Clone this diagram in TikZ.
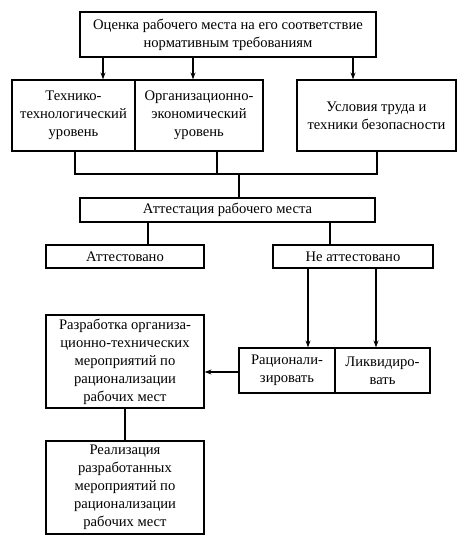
\documentclass[tikz,border=0pt]{standalone}
\usepackage{fontspec}
\setmainfont{Liberation Serif}
\usepackage{tikz}
\usetikzlibrary{calc,arrows.meta}

\begin{document}
\begin{tikzpicture}[x=1pt,y=-1pt,
  box/.style={draw,line width=1.2pt,inner sep=0pt,align=center,
    font=\fontsize{14.6}{18}\selectfont},
  arr/.style={line width=1.2pt,-{Stealth[length=7pt,width=5pt]}},
  ln/.style={line width=1.2pt}]
  \useasboundingbox (0,0) rectangle (474,549);

  % Top level
  \node[box,minimum width=296,minimum height=45] (ocenka) at (228,34.5)
    {Оценка рабочего места на его соответствие\\нормативным требованиям};

  % Second row
  \node[box,minimum width=123,minimum height=71] (tech) at (73.5,115.5)
    {Технико-\\технологический\\уровень};
  \node[box,minimum width=128,minimum height=71] (org) at (199,115.5)
    {Организационно-\\экономический\\уровень};
  \node[box,minimum width=159,minimum height=71] (usl) at (376.5,115.5)
    {Условия труда и\\техники безопасности};

  \draw[arr] (ocenka.south -| 103,0) -- (tech.north -| 103,0);
  \draw[arr] (ocenka.south -| 193,0) -- (org.north -| 193,0);
  \draw[arr] (ocenka.south -| 353,0) -- (usl.north -| 353,0);

  % Attestation
  \node[box,minimum width=295,minimum height=24] (att) at (227.5,210)
    {Аттестация рабочего места};
  \coordinate (join) at (239,174);
  \draw[ln] (tech.south -| 75,0) |- (join);
  \draw[ln] (org.south -| 217,0) |- (join);
  \draw[ln] (usl.south -| 377,0) |- (join);
  \draw[ln] (join) -- (att.north -| join);

  \node[box,minimum width=158,minimum height=23] (attd) at (125,256.5)
    {Аттестовано};
  \node[box,minimum width=160,minimum height=23] (neattd) at (353,256.5)
    {Не аттестовано};
  \draw[ln] (att.south -| 148,0) -- (attd.north -| 148,0);
  \draw[ln] (att.south -| 330,0) -- (neattd.north -| 330,0);

  % Measures
  \node[box,minimum width=96,minimum height=45] (rac) at (287,370.5)
    {Рационали-\\зировать};
  \node[box,minimum width=95,minimum height=45] (likv) at (382.5,370.5)
    {Ликвидиро-\\вать};
  \draw[arr] (neattd.south -| 308,0) -- (rac.north -| 308,0);
  \draw[arr] (neattd.south -| 376,0) -- (likv.north -| 376,0);

  \node[box,minimum width=158,minimum height=93] (razr) at (125,361.5)
    {Разработка организа-\\ционно-технических\\мероприятий по\\рационализации\\рабочих мест};
  \draw[arr] (rac.west |- 0,372) -- (razr.east |- 0,372);

  \node[box,minimum width=158,minimum height=93] (real) at (125,487.5)
    {Реализация\\разработанных\\мероприятий по\\рационализации\\рабочих мест};
  \draw[ln] (razr.south) -- (real.north);
\end{tikzpicture}
\end{document}
